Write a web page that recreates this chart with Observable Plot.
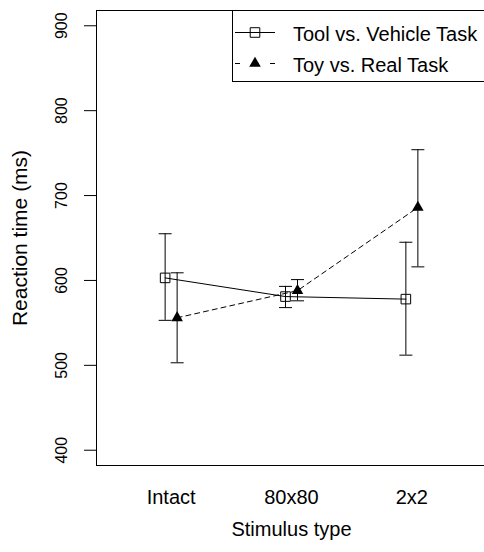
<!DOCTYPE html>
<html>
<head>
<meta charset="utf-8">
<script src="https://cdn.jsdelivr.net/npm/d3@7"></script>
<script src="https://cdn.jsdelivr.net/npm/@observablehq/plot@0.6"></script>
<style>
  html, body { margin: 0; padding: 0; background: #fff; }
  #chart svg { display: block; }
</style>
</head>
<body>
<div id="chart"></div>
<script>
// Stimulus conditions along the x axis
const categories = ["Intact", "80x80", "2x2"];
const seriesNames = ["Tool vs. Vehicle Task", "Toy vs. Real Task"];

// Mean reaction times (ms) and error-bar limits per condition
const toolMean = [603, 581, 578];
const toolLow  = [553, 568, 512];
const toolHigh = [655, 593, 645];

const toyMean = [556, 588, 686];
const toyLow  = [503, 576, 616];
const toyHigh = [609, 601, 754];

const yTicks = [400, 500, 600, 700, 800, 900];

const FONT = '"Liberation Sans", Arial, Helvetica, sans-serif';

const tool = categories.map((c, i) => ({x: i + 1, mean: toolMean[i], lo: toolLow[i], hi: toolHigh[i]}));
const toy  = categories.map((c, i) => ({x: i + 1, mean: toyMean[i], lo: toyLow[i], hi: toyHigh[i]}));

// horizontal cap for error bars, fixed pixel width
const capSymbol = {draw(ctx) { ctx.moveTo(-6.5, 0); ctx.lineTo(6.5, 0); }};

function seriesMarks(rows, dx, symbol, r, fill, dash) {
  return [
    Plot.line(rows, {x: "x", y: "mean", dx, stroke: "black", strokeWidth: 1, strokeDasharray: dash}),
    Plot.ruleX(rows, {x: "x", y1: "lo", y2: "hi", dx, stroke: "black", strokeWidth: 1}),
    Plot.dot(rows, {x: "x", y: "hi", dx, symbol: capSymbol, fill: "none", stroke: "black", strokeWidth: 1}),
    Plot.dot(rows, {x: "x", y: "lo", dx, symbol: capSymbol, fill: "none", stroke: "black", strokeWidth: 1}),
    Plot.dot(rows, {x: "x", y: "mean", dx, symbol, r, fill, stroke: fill === "none" ? "black" : "none", strokeWidth: 1})
  ];
}

const chart = Plot.plot({
  width: 484,
  height: 552,
  marginLeft: 96,
  marginRight: -2,
  marginTop: 10,
  marginBottom: 87,
  style: {fontFamily: FONT, color: "black", background: "white"},
  x: {domain: [0.38, 3.62], axis: null},
  y: {domain: [382, 918], axis: null},
  marks: [
    Plot.frame({stroke: "black"}),
    Plot.axisY(yTicks, {tickSize: 12, tickFormat: () => "", stroke: "black", label: null}),
    Plot.text(yTicks, {y: d => d, frameAnchor: "left", textAnchor: "middle", dx: -35, rotate: -90, text: d => String(d), fontSize: 16}),
    Plot.text(categories, {x: (d, i) => i + 1, frameAnchor: "bottom", textAnchor: "middle", dy: 38, text: d => d, fontSize: 20}),
    Plot.text(["Stimulus type"], {frameAnchor: "bottom", textAnchor: "middle", dy: 70, fontSize: 20}),
    Plot.text(["Reaction time (ms)"], {frameAnchor: "left", textAnchor: "middle", dx: -76.5, rotate: -90, fontSize: 21}),
    ...seriesMarks(tool, -6, d3.symbolSquare, 5.4, "none", null),
    ...seriesMarks(toy, 6, d3.symbolTriangle, 4.3, "black", "5,4")
  ]
});

// legend box in the upper right corner of the panel
const svg = d3.select(chart);
const lg = svg.append("g").attr("font-family", FONT).attr("font-size", 20).attr("text-anchor", "start");
lg.append("rect").attr("x", 232.5).attr("y", 10.5).attr("width", 300).attr("height", 71)
  .attr("fill", "white").attr("stroke", "black");

const rowY = [32.5, 63.5];
// solid line with open square
lg.append("line").attr("x1", 235).attr("x2", 275).attr("y1", rowY[0]).attr("y2", rowY[0]).attr("stroke", "black");
lg.append("path").attr("transform", `translate(255,${rowY[0]})`)
  .attr("d", d3.symbol(d3.symbolSquare, 5.4 * 5.4 * Math.PI)()).attr("fill", "none").attr("stroke", "black");
// dashed line with filled triangle
[[235, 240], [270, 275]].forEach(([a, b]) =>
  lg.append("line").attr("x1", a).attr("x2", b).attr("y1", rowY[1]).attr("y2", rowY[1]).attr("stroke", "black"));
lg.append("path").attr("transform", `translate(255,${rowY[1]})`)
  .attr("d", d3.symbol(d3.symbolTriangle, 4.3 * 4.3 * Math.PI)()).attr("fill", "black");

seriesNames.forEach((name, i) =>
  lg.append("text").attr("x", 293).attr("y", rowY[i] + 1).attr("dy", "0.35em").attr("fill", "black").text(name));

document.getElementById("chart").append(chart);
</script>
</body>
</html>
